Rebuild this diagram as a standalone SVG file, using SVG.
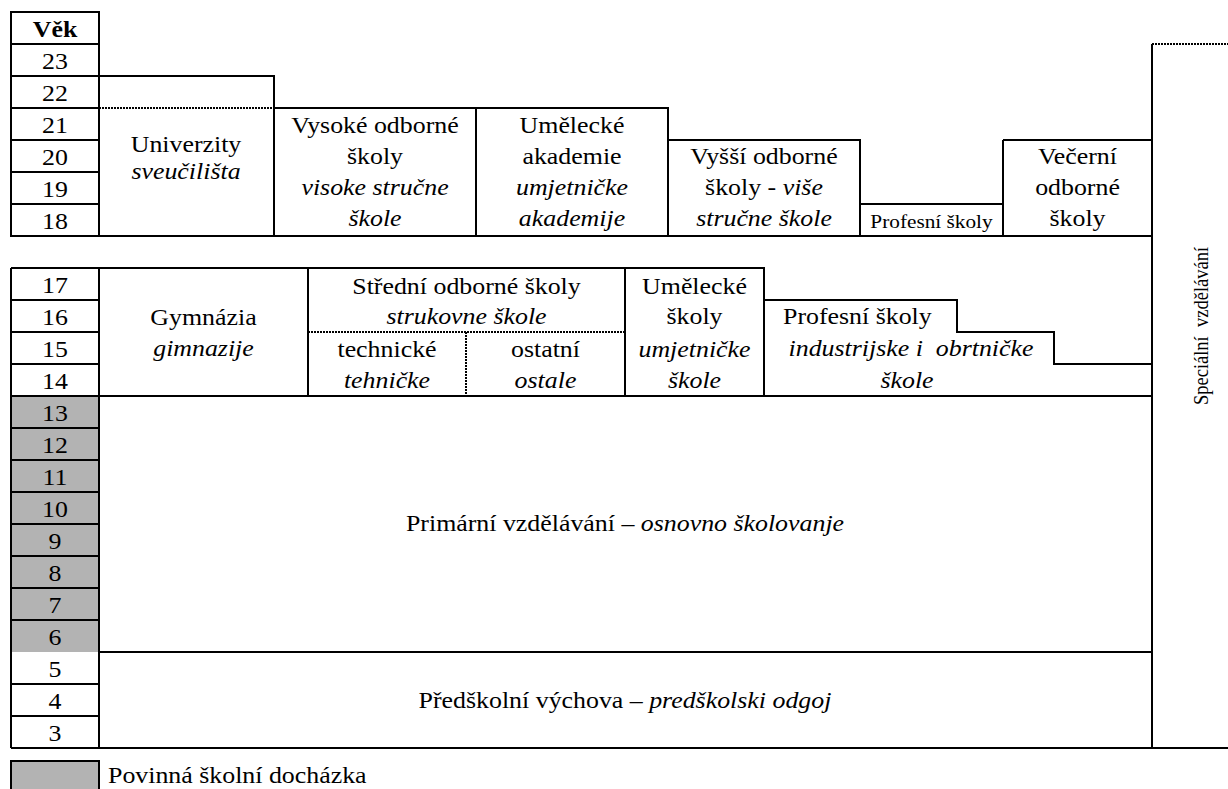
<svg xmlns="http://www.w3.org/2000/svg" width="1228" height="789" viewBox="0 0 1228 789">
<style>
.t{font-family:"Liberation Serif","Times New Roman",serif;font-size:22.5px;fill:#000;text-anchor:middle}
.st{text-anchor:start}
.i{font-style:italic}
.b{font-weight:bold}
.sm{font-size:18.5px}
.ln{fill:none;stroke:#000;stroke-width:2}
.dot{fill:none;stroke:#000;stroke-width:2;stroke-dasharray:2 1}
.g{fill:#b3b3b3}
</style>
<rect width="1228" height="789" fill="#fff"/>
<g id="age-column">
<rect class="g" x="11" y="396" width="88" height="256"/>
<path class="ln" d="M11 12H99V236H11Z M11 44H99 M11 76H99 M11 108H99 M11 140H99 M11 172H99 M11 204H99 M11 268V748 M99 268V748 M11 300H99 M11 332H99 M11 364H99 M11 428H99 M11 460H99 M11 492H99 M11 524H99 M11 556H99 M11 588H99 M11 620H99 M11 684H99 M11 716H99"/>
<text class="t b" transform="translate(55 37) scale(1.15 1)">Věk</text>
<text class="t" transform="translate(55 69) scale(1.15 1)">23</text>
<text class="t" transform="translate(55 101) scale(1.15 1)">22</text>
<text class="t" transform="translate(55 133) scale(1.15 1)">21</text>
<text class="t" transform="translate(55 165) scale(1.15 1)">20</text>
<text class="t" transform="translate(55 197) scale(1.15 1)">19</text>
<text class="t" transform="translate(55 229) scale(1.15 1)">18</text>
<text class="t" transform="translate(55 293) scale(1.15 1)">17</text>
<text class="t" transform="translate(55 325) scale(1.15 1)">16</text>
<text class="t" transform="translate(55 357) scale(1.15 1)">15</text>
<text class="t" transform="translate(55 389) scale(1.15 1)">14</text>
<text class="t" transform="translate(55 421) scale(1.15 1)">13</text>
<text class="t" transform="translate(55 453) scale(1.15 1)">12</text>
<text class="t" transform="translate(55 485) scale(1.15 1)">11</text>
<text class="t" transform="translate(55 517) scale(1.15 1)">10</text>
<text class="t" transform="translate(55 549) scale(1.15 1)">9</text>
<text class="t" transform="translate(55 581) scale(1.15 1)">8</text>
<text class="t" transform="translate(55 613) scale(1.15 1)">7</text>
<text class="t" transform="translate(55 645) scale(1.15 1)">6</text>
<text class="t" transform="translate(55 677) scale(1.15 1)">5</text>
<text class="t" transform="translate(55 709) scale(1.15 1)">4</text>
<text class="t" transform="translate(55 741) scale(1.15 1)">3</text>
</g>
<g id="univerzity">
<path class="ln" d="M99 76H274V236"/>
<path class="dot" d="M99 108H274"/>
<text class="t" transform="translate(186 152) scale(1.15 1)">Univerzity</text>
<text class="t i" transform="translate(186 179) scale(1.15 1)">sveučilišta</text>
</g>
<g id="vysoke-odborne-skoly">
<path class="ln" d="M274 108H476V236"/>
<text class="t" transform="translate(375 133) scale(1.15 1)">Vysoké odborné</text>
<text class="t" transform="translate(375 164) scale(1.15 1)">školy</text>
<text class="t i" transform="translate(375 195) scale(1.15 1)">visoke stručne</text>
<text class="t i" transform="translate(375 226) scale(1.15 1)">škole</text>
</g>
<g id="umelecke-akademie">
<path class="ln" d="M476 108H668V236"/>
<text class="t" transform="translate(572 133) scale(1.15 1)">Umělecké</text>
<text class="t" transform="translate(572 164) scale(1.15 1)">akademie</text>
<text class="t i" transform="translate(572 195) scale(1.15 1)">umjetničke</text>
<text class="t i" transform="translate(572 226) scale(1.15 1)">akademije</text>
</g>
<g id="vyssi-odborne-skoly">
<path class="ln" d="M668 140H860V236"/>
<text class="t" transform="translate(764 164) scale(1.15 1)">Vyšší odborné</text>
<text class="t" transform="translate(764 195) scale(1.15 1)">školy - <tspan class="i">više</tspan></text>
<text class="t i" transform="translate(764 226) scale(1.15 1)">stručne škole</text>
</g>
<g id="profesni-skoly-vyssi">
<path class="ln" d="M860 204H1003V236"/>
<text class="t sm" transform="translate(931.5 228) scale(1.15 1)">Profesní školy</text>
</g>
<g id="vecerni-odborne-skoly">
<path class="ln" d="M1003 140H1152 M1003 140V236"/>
<text class="t" transform="translate(1077.5 164) scale(1.15 1)">Večerní</text>
<text class="t" transform="translate(1077.5 195) scale(1.15 1)">odborné</text>
<text class="t" transform="translate(1077.5 226) scale(1.15 1)">školy</text>
</g>
<path class="ln" d="M99 236H1152"/>
<g id="gymnazia">
<path class="ln" d="M11 268H308V396"/>
<text class="t" transform="translate(203.5 325) scale(1.15 1)">Gymnázia</text>
<text class="t i" transform="translate(203.5 356) scale(1.15 1)">gimnazije</text>
</g>
<g id="stredni-odborne-skoly">
<path class="ln" d="M308 268H625V396"/>
<path class="dot" d="M308 332H625 M466 332V396"/>
<text class="t" transform="translate(466.5 294) scale(1.15 1)">Střední odborné školy</text>
<text class="t i" transform="translate(466.5 324) scale(1.15 1)">strukovne škole</text>
<text class="t" transform="translate(387 357) scale(1.15 1)">technické</text>
<text class="t i" transform="translate(387 388) scale(1.15 1)">tehničke</text>
<text class="t" transform="translate(545.5 357) scale(1.15 1)">ostatní</text>
<text class="t i" transform="translate(545.5 388) scale(1.15 1)">ostale</text>
</g>
<g id="umelecke-skoly">
<path class="ln" d="M625 268H764V396"/>
<text class="t" transform="translate(694.5 294) scale(1.15 1)">Umělecké</text>
<text class="t" transform="translate(694.5 324) scale(1.15 1)">školy</text>
<text class="t i" transform="translate(694.5 357) scale(1.15 1)">umjetničke</text>
<text class="t i" transform="translate(694.5 388) scale(1.15 1)">škole</text>
</g>
<g id="profesni-skoly-stredni">
<path class="ln" d="M764 300H957V332H1054V364H1152"/>
<text class="t st" transform="translate(783 324) scale(1.15 1)">Profesní školy</text>
<text class="t i" xml:space="preserve" transform="translate(911 356) scale(1.15 1)">industrijske i  obrtničke</text>
<text class="t i" transform="translate(907 388) scale(1.15 1)">škole</text>
</g>
<g id="primarni-vzdelavani">
<path class="ln" d="M11 396H1152 M99 652H1152"/>
<text class="t" transform="translate(625 531) scale(1.15 1)">Primární vzdělávání – <tspan class="i">osnovno školovanje</tspan></text>
</g>
<g id="predskolni-vychova">
<path class="ln" d="M11 748H1228"/>
<text class="t" transform="translate(625 708) scale(1.15 1)">Předškolní výchova – <tspan class="i">predškolski odgoj</tspan></text>
</g>
<g id="specialni-vzdelavani">
<path class="ln" d="M1152 44V748"/>
<path class="dot" d="M1152 44H1228"/>
<text class="t" xml:space="preserve" style="font-size:18.5px" transform="translate(1208 326) rotate(-90) scale(1 1.15)">Speciální  vzdělávání</text>
</g>
<g id="legend">
<rect class="g" x="11" y="761" width="88" height="32" stroke="#000" stroke-width="2"/>
<text class="t st" transform="translate(108 783) scale(1.15 1)">Povinná školní docházka</text>
</g>
</svg>
